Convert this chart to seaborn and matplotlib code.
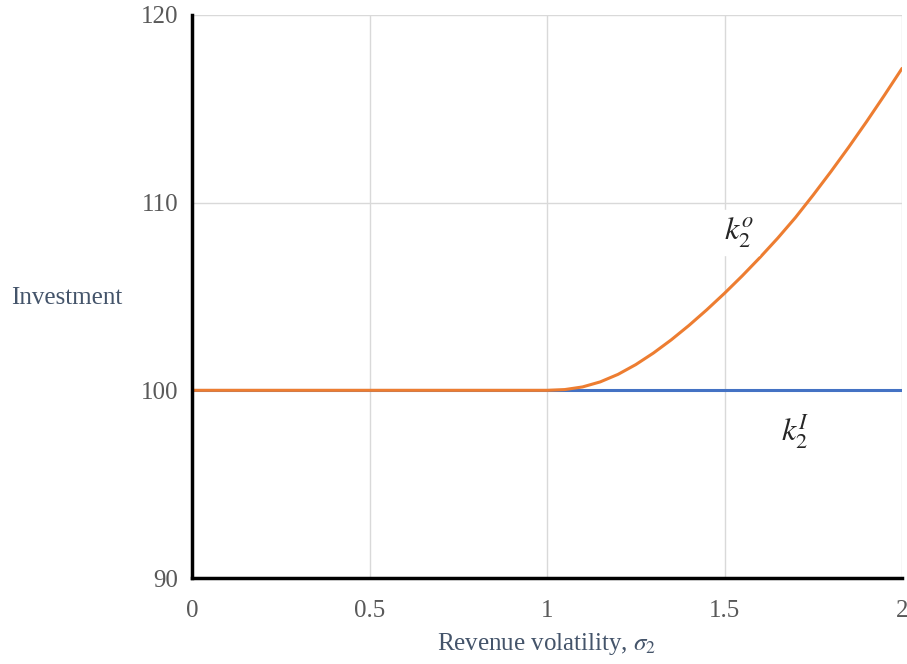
import numpy as np
import pandas as pd
import matplotlib
matplotlib.use("Agg")
import matplotlib.pyplot as plt
import seaborn as sns

# values
sigma = [0.0, 0.1, 0.2, 0.3, 0.4, 0.5, 0.6, 0.7, 0.8, 0.9, 1.0,
         1.05, 1.1, 1.15, 1.2, 1.25, 1.3, 1.35, 1.4, 1.45, 1.5,
         1.55, 1.6, 1.65, 1.7, 1.75, 1.8, 1.85, 1.9, 1.95, 2.0]
k_open = [100.0] * 11 + [100.04, 100.18, 100.45, 100.85, 101.37, 101.99, 102.69,
                         103.46, 104.29, 105.17, 106.10, 107.08, 108.11, 109.21,
                         110.41, 111.66, 112.96, 114.31, 115.71, 117.15]
k_int = [100.0] * len(sigma)

x_ticks = [0, 0.5, 1, 1.5, 2]
x_tick_labels = ["0", "0.5", "1", "1.5", "2"]
y_ticks = [90, 100, 110, 120]

df = pd.DataFrame({"sigma": sigma, "k_open": k_open, "k_int": k_int})

sns.set_theme(style="whitegrid")
plt.rcParams["font.family"] = ["Liberation Serif", "DejaVu Serif"]
plt.rcParams["mathtext.fontset"] = "stix"

fig = plt.figure(figsize=(9.07, 6.64), dpi=100)
ax = fig.add_axes([0.2117, 0.1295, 0.7828, 0.848])

sns.lineplot(data=df, x="sigma", y="k_int", ax=ax, color="#4472C4", linewidth=2.2)
sns.lineplot(data=df, x="sigma", y="k_open", ax=ax, color="#ED7D31", linewidth=2.2)

ax.set_xlim(0, 2)
ax.set_ylim(90, 120)
ax.set_xticks(x_ticks)
ax.set_xticklabels(x_tick_labels)
ax.set_yticks(y_ticks)
ax.tick_params(axis="both", length=0, labelsize=18, labelcolor="#595959")
ax.tick_params(axis="x", pad=16)
ax.tick_params(axis="y", pad=10)

ax.grid(True, color="#D9D9D9", linewidth=1)
for side in ["top", "right"]:
    ax.spines[side].set_visible(False)
for side in ["left", "bottom"]:
    ax.spines[side].set_color("black")
    ax.spines[side].set_linewidth(2.5)

ax.set_xlabel(r"Revenue volatility, $\sigma_2$", fontsize=18, color="#44546A",
              labelpad=6)
ax.set_ylabel("Investment", fontsize=18, color="#44546A", rotation=0,
              ha="center", va="center")
ax.yaxis.set_label_coords(-0.177, 0.497)

ax.text(1.54, 108.4, r"$k_2^o$", fontsize=23, ha="center", va="center",
        backgroundcolor="white")
ax.text(1.70, 97.8, r"$k_2^I$", fontsize=23, ha="center", va="center")

fig.savefig("out.png", dpi=100)
